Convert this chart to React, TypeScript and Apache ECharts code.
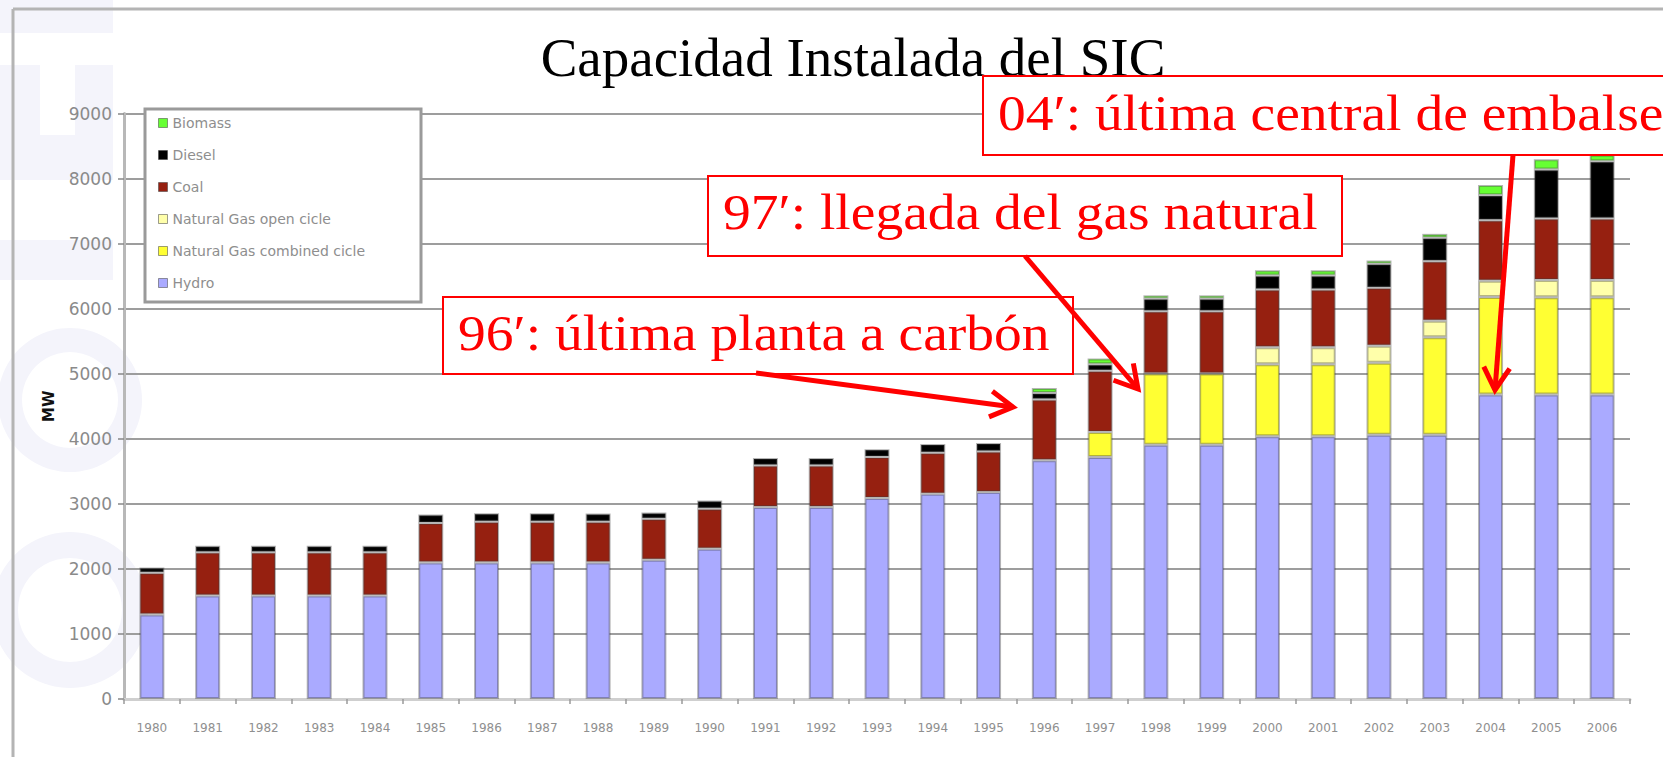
import React, { useEffect, useRef } from "react";
import * as echarts from "echarts";

// ---------- data ----------
const years = [
  "1980", "1981", "1982", "1983", "1984", "1985", "1986", "1987", "1988", "1989",
  "1990", "1991", "1992", "1993", "1994", "1995", "1996", "1997", "1998", "1999",
  "2000", "2001", "2002", "2003", "2004", "2005", "2006",
];
const hydro = [1300, 1590, 1590, 1590, 1590, 2100, 2100, 2100, 2100, 2140, 2310, 2950, 2950, 3090, 3155, 3180, 3670, 3720, 3910, 3910, 4040, 4040, 4060, 4060, 4680, 4680, 4680];
const ngCombined = [0, 0, 0, 0, 0, 0, 0, 0, 0, 0, 0, 0, 0, 0, 0, 0, 0, 385, 1095, 1095, 1105, 1105, 1110, 1500, 1500, 1495, 1495];
const ngOpen = [0, 0, 0, 0, 0, 0, 0, 0, 0, 0, 0, 0, 0, 0, 0, 0, 0, 0, 0, 0, 260, 260, 260, 255, 250, 265, 265];
const coal = [640, 665, 665, 665, 665, 605, 625, 625, 625, 630, 615, 640, 640, 630, 630, 625, 935, 940, 955, 955, 890, 890, 890, 915, 930, 945, 945];
const diesel = [80, 100, 100, 100, 100, 130, 130, 130, 125, 95, 125, 115, 115, 120, 135, 130, 100, 100, 195, 195, 215, 215, 370, 360, 385, 755, 880];
const biomass = [0, 0, 0, 0, 0, 0, 0, 0, 0, 0, 0, 0, 0, 0, 0, 0, 75, 90, 50, 50, 80, 80, 50, 60, 155, 155, 100];

const legendLabels = ["Biomass", "Diesel", "Coal", "Natural Gas open cicle", "Natural Gas combined cicle", "Hydro"];
const yMin = 0;
const yMax = 9000;
const yInterval = 1000;
const yName = "MW";
const titleText = "Capacidad Instalada del SIC";
const noteTexts = ["04\u2032: última central de embalse", "97\u2032: llegada del gas natural", "96\u2032: última planta a carbón"];

// ---------- styling ----------
const seriesDefs = [
  { name: "Hydro", data: hydro, color: "#aaaaff" },
  { name: "Natural Gas combined cicle", data: ngCombined, color: "#ffff33" },
  { name: "Natural Gas open cicle", data: ngOpen, color: "#ffffaa" },
  { name: "Coal", data: coal, color: "#962010" },
  { name: "Diesel", data: diesel, color: "#000000" },
  { name: "Biomass", data: biomass, color: "#66ff33" },
];

const RED = "#ff0000";

function arrow(x1: number, y1: number, x2: number, y2: number) {
  const a = Math.atan2(y2 - y1, x2 - x1);
  const L = 26;
  const s = Math.PI / 6;
  const p1 = [x2 - L * Math.cos(a - s), y2 - L * Math.sin(a - s)];
  const p2 = [x2 - L * Math.cos(a + s), y2 - L * Math.sin(a + s)];
  return [
    { type: "polyline", z: 30, shape: { points: [[x1, y1], [x2, y2]] }, style: { stroke: RED, lineWidth: 5, fill: null } },
    { type: "polyline", z: 30, shape: { points: [p1, [x2, y2], p2] }, style: { stroke: RED, lineWidth: 5, fill: null, lineJoin: "miter" } },
  ];
}

function noteBox(x: number, y: number, w: number, h: number, text: string, ty: number) {
  return [
    { type: "rect", z: 25, shape: { x, y, width: w, height: h }, style: { fill: "#ffffff", stroke: RED, lineWidth: 2 } },
    {
      type: "text", z: 26, x: x + 15, y: ty, scaleX: 1.11,
      style: { text, x: 0, y: 0, fill: RED, font: '50px "Liberation Serif", serif', textAlign: "left", textVerticalAlign: "middle" },
    },
  ];
}

const WM = "#f4f4fb";
const watermark = [
  { type: "rect", z: -10, shape: { x: 0, y: 0, width: 113, height: 33 }, style: { fill: WM } },
  { type: "rect", z: -10, shape: { x: 0, y: 65, width: 40, height: 70 }, style: { fill: WM } },
  { type: "rect", z: -10, shape: { x: 75, y: 65, width: 38, height: 70 }, style: { fill: WM } },
  { type: "rect", z: -10, shape: { x: 0, y: 135, width: 113, height: 45 }, style: { fill: WM } },
  { type: "rect", z: -10, shape: { x: 0, y: 240, width: 113, height: 40 }, style: { fill: WM } },
  { type: "ring", z: -10, shape: { cx: 70, cy: 400, r: 72, r0: 48 }, style: { fill: WM } },
  { type: "ring", z: -10, shape: { cx: 70, cy: 610, r: 78, r0: 52 }, style: { fill: WM } },
];

export default function App() {
  const ref = useRef<HTMLDivElement>(null);
  useEffect(() => {
    const chart = echarts.init(ref.current!, null, { renderer: "svg" });
    const option: any = {
      animation: false,
      backgroundColor: "#ffffff",
      textStyle: { fontFamily: '"DejaVu Sans", sans-serif' },
      grid: { left: 124, right: 33, top: 113.5, bottom: 58, containLabel: false },
      legend: {
        orient: "vertical",
        left: 158,
        top: 116,
        padding: 0,
        itemGap: 18,
        itemWidth: 9,
        itemHeight: 9,
        icon: "rect",
        z: 10,
        data: legendLabels,
        itemStyle: { borderWidth: 1, borderColor: "rgba(60,60,60,0.5)" },
        textStyle: { color: "#8e8e8e", fontSize: 14, lineHeight: 14, fontFamily: '"DejaVu Sans", sans-serif' },
      },
      xAxis: {
        type: "category",
        data: years,
        axisLine: { lineStyle: { color: "#cfcfcf", width: 3 } },
        axisTick: { show: true, length: 5, lineStyle: { color: "#9a9a9a", width: 1.5 } },
        axisLabel: { color: "#8f8f8f", fontSize: 12, margin: 23, interval: 0 },
        splitLine: { show: false },
      },
      yAxis: {
        type: "value",
        min: yMin,
        max: yMax,
        interval: yInterval,
        name: yName,
        nameLocation: "middle",
        nameRotate: 90,
        nameGap: 68,
        nameTextStyle: { fontWeight: "bold", fontSize: 15, color: "#111111" },
        axisLine: { show: true, lineStyle: { color: "#b8b8b8", width: 3 } },
        axisTick: { show: true, length: 6, lineStyle: { color: "#888888", width: 1.5 } },
        axisLabel: { color: "#8a8a8a", fontSize: 17, margin: 12, formatter: (v: number) => String(v) },
        splitLine: { lineStyle: { color: "#9d9d9d", width: 2 } },
      },
      series: seriesDefs.map((s) => ({
        name: s.name,
        type: "bar",
        stack: "total",
        barWidth: 25,
        data: s.data.map((v) => (v === 0 ? "-" : v)),
        itemStyle: { color: s.color, borderColor: "rgba(60,60,60,0.38)", borderWidth: 2 },
        emphasis: { disabled: true },
      })),
      graphic: [
        ...watermark,
        { type: "line", z: 1, shape: { x1: 13, y1: 9, x2: 1663, y2: 9 }, style: { stroke: "#b4b4b4", lineWidth: 3 } },
        { type: "line", z: 1, shape: { x1: 13, y1: 9, x2: 13, y2: 757 }, style: { stroke: "#b4b4b4", lineWidth: 3 } },
        { type: "rect", z: 5, shape: { x: 145, y: 109, width: 276, height: 193 }, style: { fill: "#ffffff", stroke: "#9a9a9a", lineWidth: 3 } },
        {
          type: "text", z: 20, x: 853, y: 57,
          style: { text: titleText, x: 0, y: 0, fill: "#000000", font: '55px "Liberation Serif", serif', textAlign: "center", textVerticalAlign: "middle" },
        },
        ...noteBox(983, 76, 720, 79, noteTexts[0], 113),
        ...noteBox(708, 176, 634, 80, noteTexts[1], 212),
        ...noteBox(443, 297, 630, 77, noteTexts[2], 333),
        ...arrow(756, 373, 1013, 407),
        ...arrow(1025, 256, 1138, 389),
        ...arrow(1513, 155, 1495, 390),
      ],
    };
    chart.setOption(option);
    return () => chart.dispose();
  }, []);
  return (
    <div
      ref={ref}
      style={{ position: "fixed", left: 0, top: 0, width: 1663, height: 757, background: "#fff" }}
    />
  );
}
